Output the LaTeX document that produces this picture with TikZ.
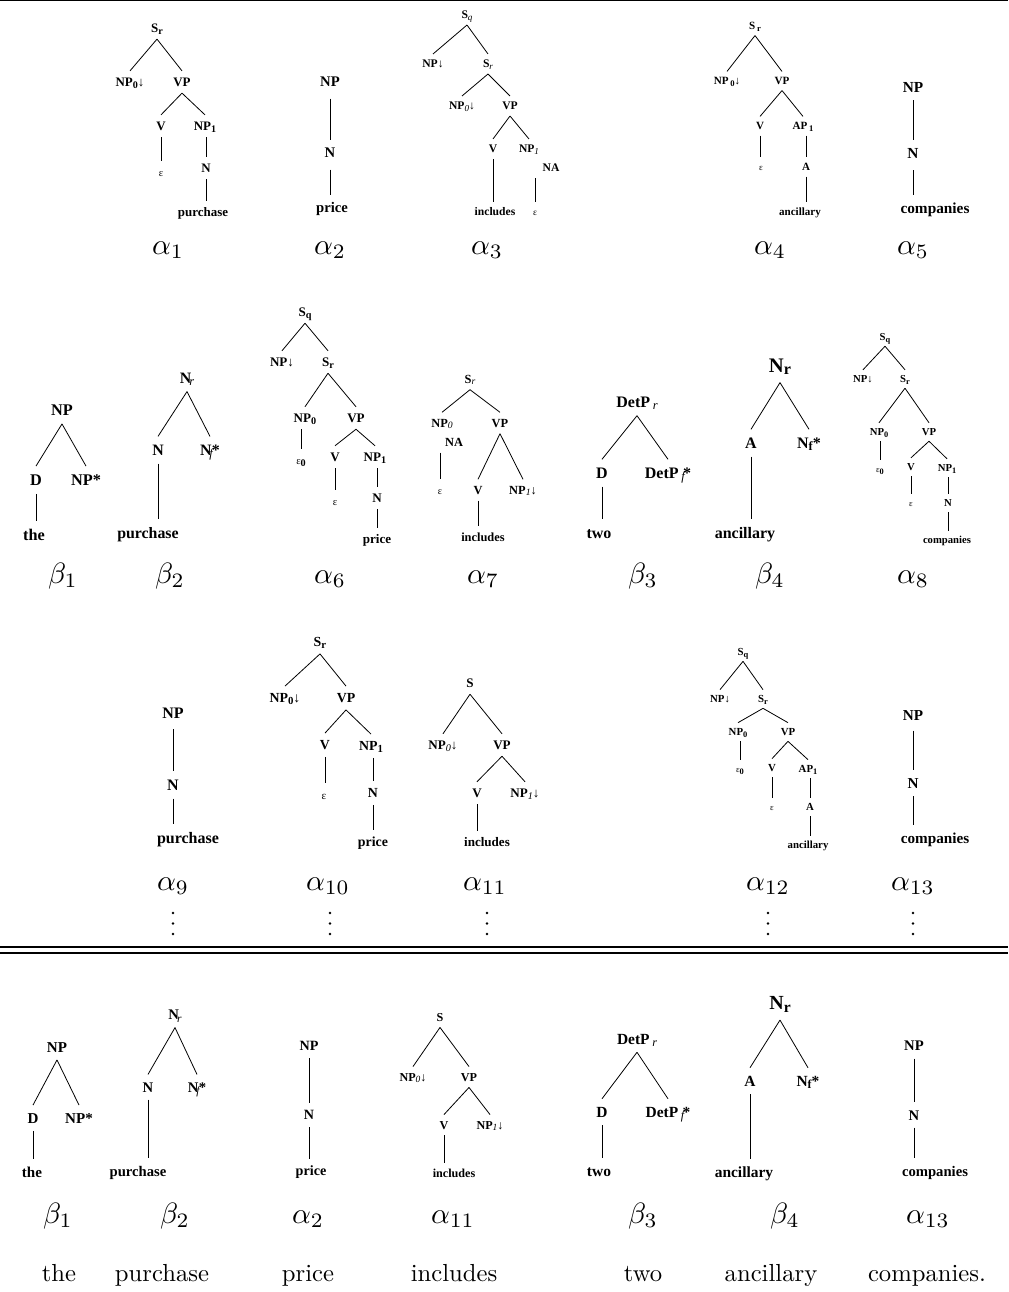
\documentclass[tikz,border=0pt]{standalone}
\usepackage{fontspec}
\usepackage{graphicx}
\newfontfamily\tms{Liberation Serif}
% subscripts inside tree labels
\newcommand\bsub[1]{\raisebox{-0.3ex}{\scalebox{0.78}{#1}}}
\newcommand\isub[1]{\raisebox{-0.3ex}{\scalebox{0.78}{\mdseries\itshape #1}}}
\newcommand\eps{\scalebox{0.8}{\mdseries ε}}
% tree names and sentence words: 10pt designs enlarged
\newcommand\gr[1]{\scalebox{2.2}{$#1$}}
\newcommand\wrd[1]{\scalebox{1.85}{#1}}
\tikzset{
  tl/.style={font=\tms\bfseries\fontsize{#1pt}{#1pt}\selectfont, inner xsep=0pt,
    inner ysep={0.5*#1pt}, text height={0.68*#1pt}, text depth=0pt},
  br/.style={line width=0.6pt},
  gk/.style={inner sep=0pt, anchor=base},
  wd/.style={inner sep=0pt, anchor=base},
  rule/.style={line width=1.5pt}
}
\begin{document}
\begin{tikzpicture}[x=0.75pt,y=-0.75pt]
\fill[white] (0,0) rectangle (1008,1292);
\useasboundingbox (0,0) rectangle (1008,1292);
\draw[line width=1pt] (0,0.7) -- (1008,0.7);

% ---------------- row 1 ----------------
% alpha 1
\begin{scope}[every node/.style={tl=9.7}]
\node (a1r) at (157,28) {S\bsub{r}};
\node (a1np) at (130,82) {NP\bsub{0}↓};
\node (a1vp) at (182,82) {VP};
\node (a1v) at (161,126) {V};
\node (a1np1) at (205,126) {NP\bsub{1}};
\node (a1e) at (161,172) {\eps};
\node (a1n) at (206,168) {N};
\node (a1w) at (203,212) {purchase};
\end{scope}
\draw[br] (a1r.south) -- (a1np.north);
\draw[br] (a1r.south) -- (a1vp.north);
\draw[br] (a1vp.south) -- (a1v.north);
\draw[br] (a1vp.south) -- (a1np1.north);
\draw[br] (a1v.south) -- (a1v.south |- a1e.north);
\draw[br] (a1n.north |- a1np1.south) -- (a1n.north);
\draw[br] (a1n.south) -- (a1n.south |- a1w.north);
\node[gk] (la1) at (168,254) {\gr{\alpha_1}};

% alpha 2
\begin{scope}[every node/.style={tl=11}]
\node (a2np) at (330,82) {NP};
\node (a2n) at (330,153) {N};
\node (a2w) at (332,208) {price};
\end{scope}
\draw[br] ([yshift=-3pt]a2np.south) -- (a2np.south |- a2n.north);
\draw[br] ([yshift=-3pt]a2n.south) -- (a2n.south |- a2w.north);
\node[gk] (la2) at (330,254) {\gr{\alpha_2}};

% alpha 3
\begin{scope}[every node/.style={tl=8.7}]
\node (a3r) at (467,15) {S\isub{q}};
\node (a3np) at (433,64) {NP↓};
\node (a3sr) at (488,64) {S\isub{r}};
\node (a3np0) at (462,106) {NP\isub{0}↓};
\node (a3vp) at (510,106) {VP};
\node (a3v) at (493,149) {V};
\node (a3np1) at (529,149) {NP\isub{1}};
\node (a3na) at (551,168) {NA};
\node (a3w) at (495,212) {includes};
\node (a3e) at (535,212) {\eps};
\end{scope}
\draw[br] (a3r.south) -- (a3np.north);
\draw[br] (a3r.south) -- (a3sr.north);
\draw[br] (a3sr.south) -- (a3np0.north);
\draw[br] (a3sr.south) -- (a3vp.north);
\draw[br] (a3vp.south) -- (a3v.north);
\draw[br] (a3vp.south) -- (a3np1.north);
\draw[br] (a3v.south) -- (a3v.south |- a3w.north);
\draw[br] (a3e.north |- a3na.south) -- (a3e.north);
\node[gk] (la3) at (487,254) {\gr{\alpha_3}};

% alpha 4
\begin{scope}[every node/.style={tl=8.3}]
\node (a4r) at (755,26) {S\,\bsub{r}};
\node (a4np) at (727,81) {NP\,\bsub{0}↓};
\node (a4vp) at (782,81) {VP};
\node (a4v) at (760,126) {V};
\node (a4ap) at (803,126) {AP\,\bsub{1}};
\node (a4e) at (761,167) {\eps};
\node (a4a) at (806,167) {A};
\node (a4w) at (800,212) {ancillary};
\end{scope}
\draw[br] (a4r.south) -- (a4np.north);
\draw[br] (a4r.south) -- (a4vp.north);
\draw[br] (a4vp.south) -- (a4v.north);
\draw[br] (a4vp.south) -- (a4ap.north);
\draw[br] (a4v.south) -- (a4v.south |- a4e.north);
\draw[br] (a4a.north |- a4ap.south) -- (a4a.north);
\draw[br] (a4a.south) -- (a4a.south |- a4w.north);
\node[gk] (la4) at (770,254) {\gr{\alpha_4}};

% alpha 5
\begin{scope}[every node/.style={tl=11.5}]
\node (a5np) at (913,87) {NP};
\node (a5n) at (913,153) {N};
\node (a5w) at (935,208) {companies};
\end{scope}
\draw[br] (a5np.south) -- (a5np.south |- a5n.north);
\draw[br] ([yshift=-3pt]a5n.south) -- (a5n.south |- a5w.north);
\node[gk] (la5) at (913,254) {\gr{\alpha_5}};

% ---------------- row 2 ----------------
% beta 1
\begin{scope}[every node/.style={tl=12.2}]
\node (b1np) at (62,410) {NP};
\node (b1d) at (36,480) {D};
\node (b1ns) at (86,480) {NP*};
\node (b1w) at (34,535) {the};
\end{scope}
\draw[br] (b1np.south) -- (b1d.north);
\draw[br] (b1np.south) -- (b1ns.north);
\draw[br] (b1d.south) -- (b1d.south |- b1w.north);
\node[gk] (lb1) at (63,583) {\gr{\beta_1}};

% beta 2
\begin{scope}[every node/.style={tl=11.9}]
\node (b2r) at (187,378) {N\kern-0.12em\isub{r}};
\node (b2n) at (158,450) {N};
\node (b2nf) at (210,450) {N\kern-0.15em\isub{f}\kern-0.05em*};
\node (b2w) at (148,533) {purchase};
\end{scope}
\draw[br] (b2r.south) -- (b2n.north);
\draw[br] (b2r.south) -- (b2nf.north);
\draw[br] (b2n.south) -- (b2n.south |- b2w.north);
\node[gk] (lb2) at (170,583) {\gr{\beta_2}};

% alpha 6
\begin{scope}[every node/.style={tl=9.8}]
\node (a6r) at (305,312) {S\bsub{q}};
\node (a6np) at (282,362) {NP↓};
\node (a6sr) at (328,362) {S\bsub{r}};
\node (a6np0) at (305,418) {NP\bsub{0}};
\node (a6vp) at (356,418) {VP};
\node (a6e0) at (301,460) {\eps\bsub{0}};
\node (a6v) at (335,457) {V};
\node (a6np1) at (375,457) {NP\bsub{1}};
\node (a6e) at (335,501) {\eps};
\node (a6n) at (377,498) {N};
\node (a6w) at (377,539) {price};
\end{scope}
\draw[br] (a6r.south) -- (a6np.north);
\draw[br] (a6r.south) -- (a6sr.north);
\draw[br] (a6sr.south) -- (a6np0.north);
\draw[br] (a6sr.south) -- (a6vp.north);
\draw[br] (a6e0.north |- a6np0.south) -- (a6e0.north);
\draw[br] (a6vp.south) -- (a6v.north);
\draw[br] (a6vp.south) -- (a6np1.north);
\draw[br] (a6v.south) -- (a6v.south |- a6e.north);
\draw[br] (a6n.north |- a6np1.south) -- (a6n.north);
\draw[br] (a6n.south) -- (a6n.south |- a6w.north);
\node[gk] (la6) at (330,583) {\gr{\alpha_6}};

% alpha 7
\begin{scope}[every node/.style={tl=9.3}]
\node (a7r) at (470,379) {S\isub{r}};
\node (a7np0) at (442,423) {NP\isub{0}};
\node (a7vp) at (500,423) {VP};
\node (a7na) at (454,442) {NA};
\node (a7e) at (440,490) {\eps};
\node (a7v) at (478,490) {V};
\node (a7np1) at (523,490) {NP\isub{1}↓};
\node (a7w) at (483,537) {includes};
\end{scope}
\draw[br] (a7r.south) -- (a7np0.north);
\draw[br] (a7r.south) -- (a7vp.north);
\draw[br] (a7e.north |- a7na.south) -- (a7e.north);
\draw[br] (a7vp.south) -- (a7v.north);
\draw[br] (a7vp.south) -- (a7np1.north);
\draw[br] (a7v.south) -- (a7v.south |- a7w.north);
\node[gk] (la7) at (483,583) {\gr{\alpha_7}};

% beta 3
\begin{scope}[every node/.style={tl=12}]
\node (b3r) at (637,402) {DetP\,\isub{r}};
\node (b3d) at (602,473) {D};
\node (b3ds) at (668,473) {DetP\,\isub{f}\kern-0.1em*};
\node (b3w) at (599,533) {two};
\end{scope}
\draw[br] (b3r.south) -- (b3d.north);
\draw[br] (b3r.south) -- (b3ds.north);
\draw[br] (b3d.south) -- (b3d.south |- b3w.north);
\node[gk] (lb3) at (643,583) {\gr{\beta_3}};

% beta 4
\node[tl=15.5] (b4r) at (780,365) {N\bsub{r}};
\begin{scope}[every node/.style={tl=12}]
\node (b4a) at (751,443) {A};
\node (b4nf) at (809,443) {N\bsub{f}*};
\node (b4w) at (745,533) {ancillary};
\end{scope}
\draw[br] (b4r.south) -- (b4a.north);
\draw[br] (b4r.south) -- (b4nf.north);
\draw[br] (b4a.south) -- (b4a.south |- b4w.north);
\node[gk] (lb4) at (770,583) {\gr{\beta_4}};

% alpha 8
\begin{scope}[every node/.style={tl=8}]
\node (a8r) at (885,337) {S\bsub{q}};
\node (a8np) at (863,379) {NP↓};
\node (a8sr) at (905,379) {S\bsub{r}};
\node (a8np0) at (879,432) {NP\bsub{0}};
\node (a8vp) at (929,432) {VP};
\node (a8e0) at (880,469) {\eps\bsub{0}};
\node (a8v) at (911,467) {V};
\node (a8np1) at (947,468) {NP\bsub{1}};
\node (a8e) at (911,503) {\eps};
\node (a8n) at (948,503) {N};
\node (a8w) at (947,540) {companies};
\end{scope}
\draw[br] (a8r.south) -- (a8np.north);
\draw[br] (a8r.south) -- (a8sr.north);
\draw[br] (a8sr.south) -- (a8np0.north);
\draw[br] (a8sr.south) -- (a8vp.north);
\draw[br] (a8e0.north |- a8np0.south) -- (a8e0.north);
\draw[br] (a8vp.south) -- (a8v.north);
\draw[br] (a8vp.south) -- (a8np1.north);
\draw[br] (a8v.south) -- (a8v.south |- a8e.north);
\draw[br] (a8n.north |- a8np1.south) -- (a8n.north);
\draw[br] (a8n.south) -- (a8n.south |- a8w.north);
\node[gk] (la8) at (913,583) {\gr{\alpha_8}};

% ---------------- row 3 ----------------
% alpha 9
\begin{scope}[every node/.style={tl=12}]
\node (a9np) at (173,713) {NP};
\node (a9n) at (173,785) {N};
\node (a9w) at (188,838) {purchase};
\end{scope}
\draw[br] ([yshift=-2pt]a9np.south) -- (a9np.south |- a9n.north);
\draw[br] (a9n.south) -- (a9n.south |- a9w.north);
\node[gk] (la9) at (173,890) {\gr{\alpha_9}};

% alpha 10
\begin{scope}[every node/.style={tl=10.4}]
\node (a10r) at (320,642) {S\bsub{r}};
\node (a10np) at (285,698) {NP\bsub{0}↓};
\node (a10vp) at (346,698) {VP};
\node (a10v) at (325,745) {V};
\node (a10np1) at (371,746) {NP\bsub{1}};
\node (a10e) at (324,795) {\eps};
\node (a10n) at (373,793) {N};
\node (a10w) at (373,842) {price};
\end{scope}
\draw[br] (a10r.south) -- (a10np.north);
\draw[br] (a10r.south) -- (a10vp.north);
\draw[br] (a10vp.south) -- (a10v.north);
\draw[br] (a10vp.south) -- (a10np1.north);
\draw[br] (a10v.south) -- (a10v.south |- a10e.north);
\draw[br] (a10n.north |- a10np1.south) -- (a10n.north);
\draw[br] (a10n.south) -- (a10n.south |- a10w.north);
\node[gk] (la10) at (328,890) {\gr{\alpha_{10}}};

% alpha 11
\begin{scope}[every node/.style={tl=9.8}]
\node (a11r) at (470,683) {S};
\node (a11np) at (443,745) {NP\isub{0}↓};
\node (a11vp) at (502,745) {VP};
\node (a11v) at (477,793) {V};
\node (a11np1) at (525,793) {NP\isub{1}↓};
\node (a11w) at (487,842) {includes};
\end{scope}
\draw[br] (a11r.south) -- (a11np.north);
\draw[br] (a11r.south) -- (a11vp.north);
\draw[br] (a11vp.south) -- (a11v.north);
\draw[br] (a11vp.south) -- (a11np1.north);
\draw[br] (a11v.south) -- (a11v.south |- a11w.north);
\node[gk] (la11) at (485,890) {\gr{\alpha_{11}}};

% alpha 12
\begin{scope}[every node/.style={tl=8.1}]
\node (a12r) at (743,652) {S\bsub{q}};
\node (a12np) at (720,699) {NP↓};
\node (a12sr) at (763,699) {S\bsub{r}};
\node (a12np0) at (738,732) {NP\bsub{0}};
\node (a12vp) at (788,732) {VP};
\node (a12e0) at (740,769) {\eps\bsub{0}};
\node (a12v) at (772,768) {V};
\node (a12ap) at (808,769) {AP\bsub{1}};
\node (a12e) at (772,807) {\eps};
\node (a12a) at (810,807) {A};
\node (a12w) at (808,845) {ancillary};
\end{scope}
\draw[br] (a12r.south) -- (a12np.north);
\draw[br] (a12r.south) -- (a12sr.north);
\draw[br] (a12sr.south) -- (a12np0.north);
\draw[br] (a12sr.south) -- (a12vp.north);
\draw[br] (a12e0.north |- a12np0.south) -- (a12e0.north);
\draw[br] (a12vp.south) -- (a12v.north);
\draw[br] (a12vp.south) -- (a12ap.north);
\draw[br] (a12v.south) -- (a12v.south |- a12e.north);
\draw[br] (a12a.north |- a12ap.south) -- (a12a.north);
\draw[br] (a12a.south) -- (a12a.south |- a12w.north);
\node[gk] (la12) at (768,890) {\gr{\alpha_{12}}};

% alpha 13
\begin{scope}[every node/.style={tl=11.4}]
\node (a13np) at (913,715) {NP};
\node (a13n) at (913,783) {N};
\node (a13w) at (935,838) {companies};
\end{scope}
\draw[br] ([yshift=-2pt]a13np.south) -- (a13np.south |- a13n.north);
\draw[br] (a13n.south) -- (a13n.south |- a13w.north);
\node[gk] (la13) at (913,890) {\gr{\alpha_{13}}};

% continuation dots below the third row
\foreach \cx in {173,330,487,768,913}
  \foreach \cy in {913,923.5,934}
    \fill (\cx,\cy) circle[radius=1.1pt];

% double rule
\draw[rule] (0,946.5) -- (1008,946.5);
\draw[rule] (0,952.5) -- (1008,952.5);

% ---------------- derivation ----------------
% beta 1
\begin{scope}[every node/.style={tl=11.3}]
\node (c1np) at (57,1047) {NP};
\node (c1d) at (33,1118) {D};
\node (c1ns) at (79,1118) {NP*};
\node (c1w) at (32,1172) {the};
\end{scope}
\draw[br] (c1np.south) -- (c1d.north);
\draw[br] (c1np.south) -- (c1ns.north);
\draw[br] (c1d.south) -- (c1d.south |- c1w.north);
\node[gk] (lc1) at (58,1223) {\gr{\beta_1}};

% beta 2
\begin{scope}[every node/.style={tl=11}]
\node (c2r) at (175,1015) {N\kern-0.12em\isub{r}};
\node (c2n) at (148,1087) {N};
\node (c2nf) at (197,1087) {N\kern-0.15em\isub{f}\kern-0.05em*};
\node (c2w) at (138,1171) {purchase};
\end{scope}
\draw[br] (c2r.south) -- (c2n.north);
\draw[br] (c2r.south) -- (c2nf.north);
\draw[br] (c2n.south) -- (c2n.south |- c2w.north);
\node[gk] (lc2) at (175,1223) {\gr{\beta_2}};

% alpha 2
\begin{scope}[every node/.style={tl=10.6}]
\node (c3np) at (309,1046) {NP};
\node (c3n) at (309,1115) {N};
\node (c3w) at (311,1171) {price};
\end{scope}
\draw[br] (c3np.south) -- (c3np.south |- c3n.north);
\draw[br] (c3n.south) -- (c3n.south |- c3w.north);
\node[gk] (lc3) at (308,1223) {\gr{\alpha_2}};

% alpha 11
\begin{scope}[every node/.style={tl=9.1}]
\node (c4r) at (440,1017) {S};
\node (c4np) at (413,1077) {NP\isub{0}↓};
\node (c4vp) at (469,1077) {VP};
\node (c4v) at (444,1125) {V};
\node (c4np1) at (490,1125) {NP\isub{1}↓};
\node (c4w) at (454,1173) {includes};
\end{scope}
\draw[br] (c4r.south) -- (c4np.north);
\draw[br] (c4r.south) -- (c4vp.north);
\draw[br] (c4vp.south) -- (c4v.north);
\draw[br] (c4vp.south) -- (c4np1.north);
\draw[br] (c4v.south) -- (c4v.south |- c4w.north);
\node[gk] (lc4) at (453,1223) {\gr{\alpha_{11}}};

% beta 3
\begin{scope}[every node/.style={tl=11.6}]
\node (c5r) at (637,1039) {DetP\,\isub{r}};
\node (c5d) at (602,1112) {D};
\node (c5ds) at (668,1112) {DetP\,\isub{f}\kern-0.1em*};
\node (c5w) at (599,1171) {two};
\end{scope}
\draw[br] (c5r.south) -- (c5d.north);
\draw[br] (c5r.south) -- (c5ds.north);
\draw[br] (c5d.south) -- (c5d.south |- c5w.north);
\node[gk] (lc5) at (643,1223) {\gr{\beta_3}};

% beta 4
\node[tl=15] (c6r) at (780,1003) {N\bsub{r}};
\begin{scope}[every node/.style={tl=11.6}]
\node (c6a) at (750,1081) {A};
\node (c6nf) at (808,1081) {N\bsub{f}*};
\node (c6w) at (744,1172) {ancillary};
\end{scope}
\draw[br] (c6r.south) -- (c6a.north);
\draw[br] (c6r.south) -- (c6nf.north);
\draw[br] (c6a.south) -- (c6a.south |- c6w.north);
\node[gk] (lc6) at (785,1223) {\gr{\beta_4}};

% alpha 13
\begin{scope}[every node/.style={tl=11}]
\node (c7np) at (914,1046) {NP};
\node (c7n) at (914,1115) {N};
\node (c7w) at (935,1171) {companies};
\end{scope}
\draw[br] (c7np.south) -- (c7np.south |- c7n.north);
\draw[br] (c7n.south) -- (c7n.south |- c7w.north);
\node[gk] (lc7) at (928,1223) {\gr{\alpha_{13}}};

% the sentence
\node[wd] (w1) at (59,1281) {\wrd{the}};
\node[wd] (w2) at (162,1281) {\wrd{purchase}};
\node[wd] (w3) at (308,1281) {\wrd{price}};
\node[wd] (w4) at (454,1281) {\wrd{includes}};
\node[wd] (w5) at (643,1281) {\wrd{two}};
\node[wd] (w6) at (771,1281) {\wrd{ancillary}};
\node[wd] (w7) at (927,1281) {\wrd{companies.}};
\end{tikzpicture}
\end{document}
